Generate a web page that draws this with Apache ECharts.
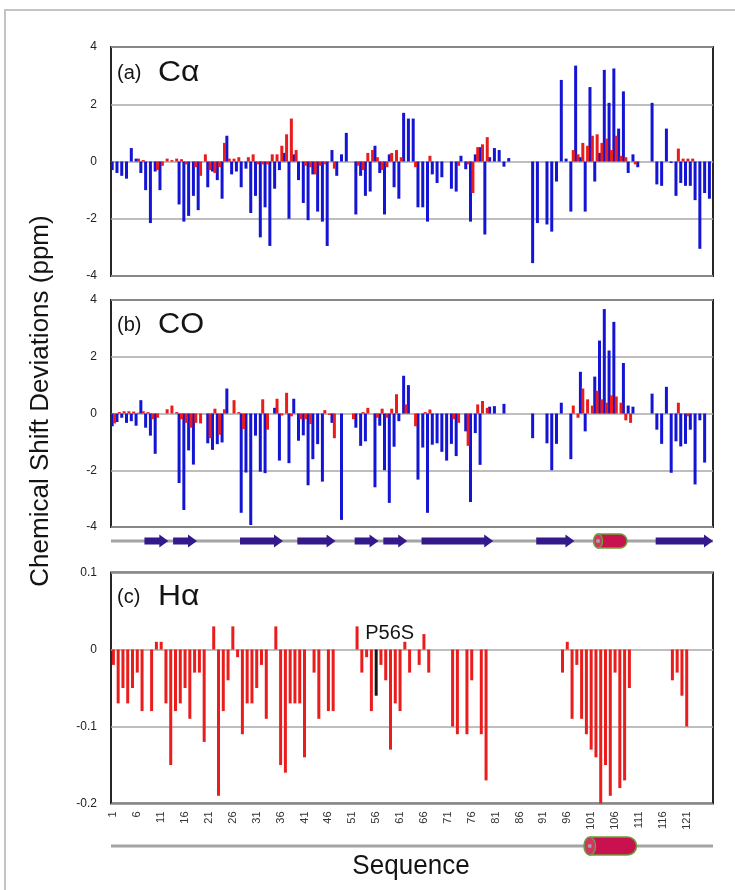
<!DOCTYPE html>
<html>
<head>
<meta charset="utf-8">
<title>Chemical Shift Deviations</title>
<script src="https://cdn.jsdelivr.net/npm/echarts@6/dist/echarts.min.js"></script>
<style>
  html, body { margin: 0; padding: 0; background: #fff; }
  #chart { width: 735px; height: 890px; }
</style>
</head>
<body>
<div id="chart"></div>
<script>
// residue numbers on the sequence axis
const residues = [];
for (let r = 1; r <= 126; r++) residues.push(String(r));
const lastLabel = '121';

// (a) C-alpha deviations, ppm (index 0 = residue 1)
const caBlue = [
  -0.3, -0.4, -0.5, -0.6, 0.47, 0.1, -0.4, -1.0, -2.15, -0.35,
  -1.0, null, null, null, -1.5, -2.1, -1.9, -1.2, -1.7, null,
  -0.9, -0.35, -0.65, -1.3, 0.9, -0.45, -0.35, -0.9, -0.25, -1.8,
  -1.2, -2.65, -1.6, -2.95, -0.95, -0.3, 0.3, -2.0, 0.25, -0.65,
  -1.45, -2.05, -0.45, -1.75, -2.1, -2.95, 0.4, -0.5, 0.25, 1.0,
  null, -1.85, -0.5, -1.2, -1.05, 0.55, -0.4, -1.85, 0.25, -0.9,
  -1.3, 1.7, 1.5, 1.5, -1.6, -1.6, -2.1, -0.45, -0.75, -0.55,
  null, -0.95, -1.05, 0.2, -0.27, -2.1, 0.25, 0.5, -2.55, 0.15,
  0.47, 0.4, -0.18, 0.12, null, null, null, null, -3.55, -2.15,
  null, -2.2, -2.45, -0.7, 2.85, 0.1, -1.75, 3.35, 0.15, -1.75,
  2.6, -0.7, 0.3, 3.2, 2.05, 3.25, 1.15, 2.45, -0.4, 0.25,
  -0.2, null, null, 2.05, -0.8, -0.85, 1.15, -0.05, -1.2, -0.75,
  -0.85, -0.85, -1.35, -3.05, -1.1, -1.3
];
const caRed = [
  null, null, null, null, null, 0.1, 0.05, null, null, -0.3,
  -0.15, 0.1, 0.05, 0.1, 0.08, -0.1, null, -0.2, -0.5, 0.25,
  -0.3, -0.4, -0.2, 0.65, 0.1, 0.1, 0.15, null, 0.15, 0.25,
  -0.1, -0.1, -0.1, 0.25, 0.25, 0.55, 0.95, 1.5, 0.4, null,
  -0.15, -0.2, -0.45, -0.15, -0.1, null, -0.25, null, null, null,
  null, -0.15, -0.3, 0.3, 0.4, 0.15, -0.3, -0.2, 0.3, 0.4,
  0.15, null, null, -0.2, null, null, 0.2, null, null, null,
  null, null, -0.15, null, -0.1, -1.1, 0.5, 0.6, 0.85, null,
  null, null, null, null, null, null, null, null, null, null,
  null, null, null, null, null, null, 0.4, 0.25, 0.65, 0.55,
  0.9, 0.95, 0.65, 0.8, 0.4, 0.9, 0.2, 0.15, null, -0.1,
  null, null, null, null, null, null, null, null, 0.45, 0.1,
  0.1, 0.1, null, null, null, null
];

// (b) CO deviations, ppm
const coBlue = [
  -0.45, -0.3, -0.15, -0.33, -0.27, -0.43, 0.47, -0.5, -0.78, -1.42,
  null, null, null, null, -2.45, -3.4, -1.3, -1.8, null, null,
  -1.05, -1.28, -1.08, -1.02, 0.88, null, null, -3.5, -2.08, -3.93,
  -0.78, -2.05, -2.1, null, 0.2, -1.66, null, -1.75, 0.52, -0.96,
  -0.77, -2.53, -1.61, -1.08, -2.4, null, -0.33, null, -3.75, null,
  null, -0.5, -1.14, -0.98, null, -2.6, -0.43, -2.0, -3.15, -1.17,
  -0.27, 1.33, 1.0, null, -2.33, -1.2, -3.5, -1.1, -1.05, -1.35,
  -1.66, -1.07, -1.5, null, -0.63, -3.12, -0.69, -1.81, null, 0.24,
  0.26, null, 0.34, null, null, null, null, null, -0.87, null,
  null, -1.05, -2.0, -1.07, 0.38, null, -1.61, null, 1.47, -0.63,
  null, 1.3, 2.57, 3.68, 2.22, 3.23, null, 1.78, 0.28, 0.24,
  null, null, null, 0.7, -0.57, -1.07, 0.94, -2.09, -0.98, -1.16,
  -1.07, -0.57, -2.5, -0.24, -1.73, null
];
const coRed = [
  -0.35, 0.05, 0.08, 0.08, 0.07, 0.03, 0.08, 0.05, -0.2, -0.15,
  null, 0.15, 0.28, 0.05, -0.2, -0.33, -0.5, -0.33, -0.35, null,
  -0.87, 0.17, -0.75, 0.15, null, 0.47, 0.05, -0.55, null, null,
  null, 0.5, -0.57, null, 0.52, -0.07, 0.73, -0.1, null, -0.2,
  -0.2, -0.37, null, null, 0.12, -0.05, -0.87, null, null, null,
  -0.2, null, 0.05, 0.2, null, -0.15, 0.17, -0.15, 0.17, 0.68,
  null, 0.32, null, -0.45, null, 0.05, 0.14, null, null, null,
  null, -0.2, -0.33, null, -1.14, null, 0.32, 0.44, 0.2, null,
  null, null, null, null, null, null, null, null, null, null,
  null, null, null, null, null, null, 0.28, -0.15, 0.88, 0.5,
  0.28, 0.8, 0.5, 0.38, 0.64, 0.6, 0.38, -0.24, -0.33, null,
  null, null, null, null, null, null, null, null, 0.38, null,
  -0.1, null, null, null, null, null
];

// (c) H-alpha deviations, ppm
const haDelta = [
  -0.02, -0.07, -0.05, -0.07, -0.05, -0.03, -0.08, null, -0.08, 0.01,
  0.01, -0.07, -0.15, -0.08, -0.07, -0.05, -0.09, -0.03, -0.03, -0.12,
  null, 0.03, -0.19, -0.08, -0.04, 0.03, -0.01, -0.11, -0.07, -0.07,
  -0.05, -0.02, -0.09, null, 0.03, -0.15, -0.16, -0.07, -0.07, -0.07,
  -0.14, null, -0.03, -0.09, null, -0.08, -0.08, null, null, null,
  null, 0.03, -0.03, -0.01, -0.08, -0.06, -0.02, -0.04, -0.13, -0.07,
  -0.08, 0.01, -0.03, null, -0.02, 0.02, -0.03, null, null, null,
  null, -0.1, -0.11, null, -0.11, -0.04, null, -0.11, -0.17, null,
  null, null, null, null, null, null, null, null, null, null,
  null, null, null, null, -0.03, 0.01, -0.09, -0.02, -0.09, -0.11,
  -0.13, -0.14, -0.2, -0.15, -0.19, -0.03, -0.18, -0.17, -0.05, null,
  null, null, null, null, null, null, null, -0.04, -0.03, -0.06,
  -0.1, null, null, null, null, null
];
const mutantResidue = '56';
const mutantLabel = 'P56S';

// y tick values
const shiftTicks = [-4, -2, 0, 2, 4];
const haTicks = [-0.2, -0.1, 0, 0.1];

// secondary structure, residue ranges
const strandsTop = [[8, 12], [14, 18], [28, 36], [40, 47], [52, 56], [58, 62], [66, 80], [90, 97], [115, 126]];
const helixTop = [[102, 108]];
const helixBottom = [[100, 110]];

const FONT = '"Liberation Sans", Arial, sans-serif';
const BLUE = '#1414d4';
const RED = '#ea1c1c';

const chart = echarts.init(document.getElementById('chart'));

function grid(top, height, framed) {
  return {
    left: 111, width: 602, top: top, height: height,
    show: framed, borderColor: '#262626', borderWidth: 2,
    backgroundColor: 'transparent', outerBoundsMode: 'none'
  };
}

const lastLabelIndex = residues.indexOf(lastLabel);

function catAxis(gridIndex, withLabels) {
  return {
    type: 'category', gridIndex: gridIndex, data: residues, boundaryGap: true,
    axisLine: { show: false }, axisTick: { show: false }, splitLine: { show: false },
    axisLabel: withLabels
      ? { interval: function (i) { return i % 5 === 0 && i <= lastLabelIndex; },
          rotate: 90, fontSize: 11, color: '#333', margin: 8, fontFamily: FONT }
      : { show: false }
  };
}

function valueAxis(gridIndex, ticks, digits) {
  return {
    type: 'value', gridIndex: gridIndex,
    min: ticks[0], max: ticks[ticks.length - 1],
    interval: +(ticks[1] - ticks[0]).toFixed(3),
    axisLine: { show: false }, axisTick: { show: false },
    axisLabel: {
      fontSize: 12, color: '#222', margin: 14, fontFamily: FONT,
      formatter: function (v) { return String(+v.toFixed(digits)); }
    },
    splitLine: { lineStyle: { color: '#a9a9a9', width: 1.5 } }
  };
}

function hiddenAxis(gridIndex) {
  return { type: 'value', gridIndex: gridIndex, min: 0, max: 1, show: false };
}

// draws the line, strand arrows and helix cylinders from residue ranges
function renderStructure(params, api) {
  const s = api.value(0), e = api.value(1), kind = api.value(2);
  const cs = params.coordSys;
  const band = api.size([1, 0])[0];
  const x0 = api.coord([s, 0])[0] - band / 2;
  const x1 = api.coord([e, 0])[0] + band / 2;
  const yc = cs.y + cs.height / 2;
  if (kind === 0) {
    return {
      type: 'line',
      shape: { x1: cs.x, y1: yc, x2: cs.x + cs.width, y2: yc },
      style: { stroke: '#a4a4a4', lineWidth: 3 }
    };
  }
  if (kind === 1) {
    const hb = 3.5, hh = 6.5, hl = Math.min(9, (x1 - x0) * 0.45);
    return {
      type: 'polygon',
      shape: { points: [[x0, yc - hb], [x1 - hl, yc - hb], [x1 - hl, yc - hh], [x1, yc],
                        [x1 - hl, yc + hh], [x1 - hl, yc + hb], [x0, yc + hb]] },
      style: { fill: '#33198c' }
    };
  }
  const h = cs.height, rx = h * 0.32;
  return {
    type: 'group',
    children: [
      { type: 'rect', shape: { x: x0 + rx, y: yc - h / 2, width: x1 - x0 - rx, height: h, r: [0, h / 2, h / 2, 0] },
        style: { fill: '#c8114e', stroke: '#6e9e3c', lineWidth: 1.5 } },
      { type: 'ellipse', shape: { cx: x0 + rx, cy: yc, rx: rx, ry: h / 2 },
        style: { fill: '#d23466', stroke: '#6e9e3c', lineWidth: 1.5 } },
      { type: 'circle', shape: { cx: x0 + rx, cy: yc, r: 2 }, style: { fill: '#a4a4a4' } }
    ]
  };
}

function structureData(strands, helices) {
  const out = [[0, residues.length - 1, 0]];
  strands.forEach(function (p) { out.push([p[0] - 1, p[1] - 1, 1]); });
  helices.forEach(function (p) { out.push([p[0] - 1, p[1] - 1, 2]); });
  return out;
}

function pairSeries(idx, blue, red) {
  return [
    { type: 'bar', xAxisIndex: idx, yAxisIndex: idx, data: blue, barWidth: 3, barGap: '-20%',
      itemStyle: { color: BLUE } },
    { type: 'bar', xAxisIndex: idx, yAxisIndex: idx, data: red, barWidth: 3,
      itemStyle: { color: RED } }
  ];
}

const option = {
  animation: false,
  backgroundColor: '#fff',
  grid: [
    grid(47, 229, true),
    grid(300, 227, true),
    grid(572.5, 231, true),
    grid(534, 14, false),
    grid(837, 18, false)
  ],
  xAxis: [catAxis(0, false), catAxis(1, false), catAxis(2, true), catAxis(3, false), catAxis(4, false)],
  yAxis: [valueAxis(0, shiftTicks, 0), valueAxis(1, shiftTicks, 0), valueAxis(2, haTicks, 1), hiddenAxis(3), hiddenAxis(4)],
  series: [].concat(
    pairSeries(0, caBlue, caRed),
    pairSeries(1, coBlue, coRed),
    [{
      type: 'bar', xAxisIndex: 2, yAxisIndex: 2, barWidth: 3,
      itemStyle: { color: RED },
      data: haDelta.map(function (v, i) {
        return residues[i] === mutantResidue ? { value: v, itemStyle: { color: '#151515' } } : v;
      })
    }],
    [
      { type: 'custom', xAxisIndex: 3, yAxisIndex: 3, clip: false, encode: { x: [0, 1] },
        renderItem: renderStructure, data: structureData(strandsTop, helixTop) },
      { type: 'custom', xAxisIndex: 4, yAxisIndex: 4, clip: false, encode: { x: [0, 1] },
        renderItem: renderStructure, data: structureData([], helixBottom) }
    ]
  )
};
chart.setOption(option);

function text(x, y, str, size, extra) {
  return Object.assign({
    type: 'text', x: x, y: y, silent: true,
    style: { text: str, fontSize: size, fontFamily: FONT, fill: '#141414', verticalAlign: 'middle' }
  }, extra || {});
}

const tag = chart.convertToPixel({ xAxisIndex: 2, yAxisIndex: 2 }, [mutantResidue, 0]);

chart.setOption({
  graphic: [
    { type: 'rect', silent: true, shape: { x: 5, y: 10, width: 750, height: 900 },
      style: { fill: 'none', stroke: '#c4c4c4', lineWidth: 2 } },
    text(117, 73, '(a)', 20),
    text(158, 73, 'C\u03b1', 29, { scaleX: 1.1 }),
    text(117, 325, '(b)', 20),
    text(158, 325, 'CO', 29, { scaleX: 1.06 }),
    text(117, 597, '(c)', 20),
    text(158, 597, 'H\u03b1', 29, { scaleX: 1.1 }),
    text(tag[0] - 11, tag[1] - 16.5, mutantLabel, 20),
    { type: 'text', x: 41, y: 401, rotation: Math.PI / 2, silent: true,
      style: { text: 'Chemical Shift Deviations (ppm)', fontSize: 26, fontFamily: FONT, fill: '#141414',
               align: 'center', verticalAlign: 'middle' } },
    { type: 'text', x: 411, y: 866, scaleX: 0.93, silent: true,
      style: { text: 'Sequence', fontSize: 28, fontFamily: FONT, fill: '#141414',
               align: 'center', verticalAlign: 'middle' } }
  ]
});

window.addEventListener('resize', function () { chart.resize(); });
</script>
</body>
</html>
